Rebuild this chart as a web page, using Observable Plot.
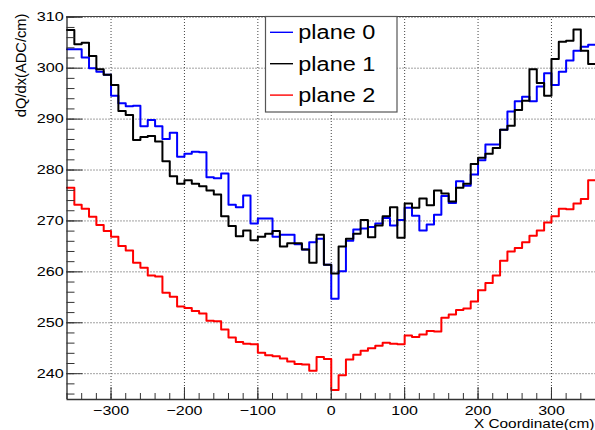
<!DOCTYPE html>
<html><head><meta charset="utf-8">
<script src="https://cdn.jsdelivr.net/npm/d3@7"></script>
<script src="https://cdn.jsdelivr.net/npm/@observablehq/plot@0.6"></script>
<style>
html,body{margin:0;padding:0;background:#fff;overflow:hidden;}
#chart{position:relative;width:595px;height:430px;}
</style></head><body><div id="chart"></div>
<script>
// ---- data ----
const binLow = -360, binWidth = 10;
const plane0 = [303.7,303.7,302.1,300.0,299.3,298.7,294.6,293.1,292.5,292.6,
  288.6,289.8,288.6,286.1,287.3,282.6,283.2,283.6,283.5,278.6,
  278.4,279.3,273.2,272.7,275.0,269.5,270.5,270.5,266.9,267.3,
  267.3,265.4,264.4,265.8,266.5,261.4,254.7,260.1,266.1,268.3,
  268.5,268.8,269.5,270.6,269.1,270.2,272.6,271.0,268.1,269.3,
  271.2,274.9,273.5,277.8,276.9,279.1,281.9,285.0,285.0,287.9,
  291.5,293.5,294.4,293.5,296.4,299.0,296.7,299.3,301.5,303.4,
  304.2,304.6];
const plane1 = [307.5,304.7,305.0,302.4,299.8,298.7,296.7,291.6,290.8,285.9,
  286.5,286.7,285.6,281.7,278.8,277.3,278.0,277.3,276.8,276.0,
  275.2,270.9,269.0,267.0,268.1,266.2,266.9,267.5,268.0,265.0,
  265.6,265.6,264.4,261.8,267.3,261.4,259.7,265.0,266.5,267.5,
  270.2,266.8,269.1,270.9,272.7,266.7,273.4,272.6,274.4,273.1,
  276.0,275.4,273.8,276.5,277.3,281.2,282.4,283.2,284.3,287.9,
  288.7,291.8,293.6,299.8,297.1,294.6,301.8,305.2,305.4,307.6,
  303.4,300.8];
const plane2 = [276.5,273.2,272.4,270.8,269.2,268.0,266.9,265.1,264.2,261.8,
  260.8,259.3,259.1,255.9,255.1,253.2,252.9,252.3,251.8,250.4,
  250.3,248.7,247.1,246.2,245.9,245.8,244.1,243.6,243.4,243.0,
  242.4,241.9,241.8,240.6,243.3,242.9,236.8,239.7,242.8,243.7,
  244.5,245.0,245.5,246.1,245.9,245.8,247.5,247.2,247.7,248.4,
  248.3,251.0,251.6,252.5,252.8,254.2,256.4,257.8,259.3,262.2,
  264.0,264.7,265.8,267.1,268.1,269.7,270.9,272.4,272.3,273.4,
  274.3,278.0];
const seriesNames = ["plane 0", "plane 1", "plane 2"];
const seriesColors = ["#0000ff", "#000000", "#ff0000"];
const xTicks = [-300, -200, -100, 0, 100, 200, 300];
const xMinor = d3.range(-360, 361, 20);
const yTicks = [240, 250, 260, 270, 280, 290, 300, 310];
const yMinor = d3.range(236, 311, 2);
const xDomain = [-360, 360];
const yDomain = [234.93, 310.15];
const xTitle = "X Coordinate(cm)";
const yTitle = "dQ/dx(ADC/cm)";

// ---- layout ----
const W = 595, H = 430, mT = 16, mB = 31, mL = 66.5, mR = 0;
const innerW = W - mL - mR, innerH = H - mT - mB;
const font = "'Liberation Sans', Arial, Helvetica, sans-serif";

function steps(vals, name) {
  const pts = vals.map((v, i) => ({x: binLow + i * binWidth, y: v, s: name}));
  pts.push({x: binLow + vals.length * binWidth, y: vals[vals.length - 1], s: name});
  return pts;
}
const series = [plane0, plane1, plane2].map((v, i) => steps(v, seriesNames[i]));
const fmt = d => d < 0 ? "\u2212" + Math.abs(d) : String(d);

const chart = Plot.plot({
  width: W, height: H,
  marginTop: mT, marginBottom: mB, marginLeft: mL, marginRight: mR,
  style: {background: "#fff", fontFamily: font, overflow: "visible"},
  x: {domain: xDomain, axis: null},
  y: {domain: yDomain, axis: null},
  marks: [
    Plot.gridX(xTicks, {stroke: "#444", strokeOpacity: 1, strokeDasharray: "1,2", strokeWidth: 1}),
    Plot.gridY(yTicks, {stroke: "#444", strokeOpacity: 1, strokeDasharray: "1,2", strokeWidth: 1}),
    Plot.line(series[0], {x: "x", y: "y", curve: "step-after", stroke: seriesColors[0], strokeWidth: 2}),
    Plot.line(series[1], {x: "x", y: "y", curve: "step-after", stroke: seriesColors[1], strokeWidth: 2}),
    Plot.line(series[2], {x: "x", y: "y", curve: "step-after", stroke: seriesColors[2], strokeWidth: 2}),
    // frame (left, bottom, top)
    Plot.ruleX([xDomain[0]], {stroke: "#111", strokeWidth: 1.2}),
    Plot.ruleY([yDomain[0]], {stroke: "#333", strokeWidth: 1.6}),
    Plot.ruleY([yDomain[1]], {stroke: "#444", strokeWidth: 1.2}),
    // inward ticks
    Plot.tickX(xMinor, {x: d => d, insetTop: innerH - 6, stroke: "#333"}),
    Plot.tickX(xTicks, {x: d => d, insetTop: innerH - 12, stroke: "#333"}),
    Plot.tickY(yMinor, {y: d => d, insetRight: innerW - 8, stroke: "#333"}),
    Plot.tickY(yTicks, {y: d => d, insetRight: innerW - 16, stroke: "#333"}),
    // tick labels
    Plot.text(xTicks, {x: d => d, y: () => yDomain[0], dy: 11.5, text: fmt, fontSize: 16, fill: "#000", textAnchor: "middle"}),
    Plot.text(yTicks, {x: () => xDomain[0], y: d => d, dx: -3.3, text: fmt, fontSize: 16.2, fill: "#000", textAnchor: "end"}),
    // axis titles
    Plot.text([xTitle], {frameAnchor: "bottom-right", dx: -1, dy: 28.8, textAnchor: "end", fontSize: 15.4, fill: "#000"}),
    Plot.text([yTitle], {frameAnchor: "top-left", dx: -51.2, dy: -3, rotate: -90, textAnchor: "end", fontSize: 14.7, fill: "#000"})
  ]
});

document.getElementById("chart").appendChild(chart);

// vertical squash of horizontal texts (ROOT-style glyph proportions)
chart.querySelectorAll("text").forEach(t => {
  if (t.textContent === yTitle) return;
  const tr = t.getAttribute("transform") || "";
  const x = +t.getAttribute("x") || 0, y = +t.getAttribute("y") || 0;
  t.setAttribute("transform", `${tr} translate(${x},${y}) scale(1,0.8) translate(${-x},${-y})`);
});

// legend (inside the frame, top-centre)
const svg = d3.select(chart);
const lg = svg.append("g").attr("text-anchor", "start");
lg.append("rect").attr("x", 265.5).attr("y", 16.5).attr("width", 131.5).attr("height", 95.5)
  .attr("fill", "#fff").attr("stroke", "#555").attr("stroke-width", 1.2);
seriesNames.forEach((name, i) => {
  const cy = 32.3 + i * 31.4;
  lg.append("line").attr("x1", 270).attr("x2", 293).attr("y1", cy).attr("y2", cy)
    .attr("stroke", seriesColors[i]).attr("stroke-width", 1.4);
  lg.append("text").attr("transform", `translate(298.3,${cy + 7}) scale(1,0.85)`)
    .attr("text-anchor", "start")
    .attr("font-family", font).attr("font-size", 23.5).attr("fill", "#000").text(name);
});
</script></body></html>
